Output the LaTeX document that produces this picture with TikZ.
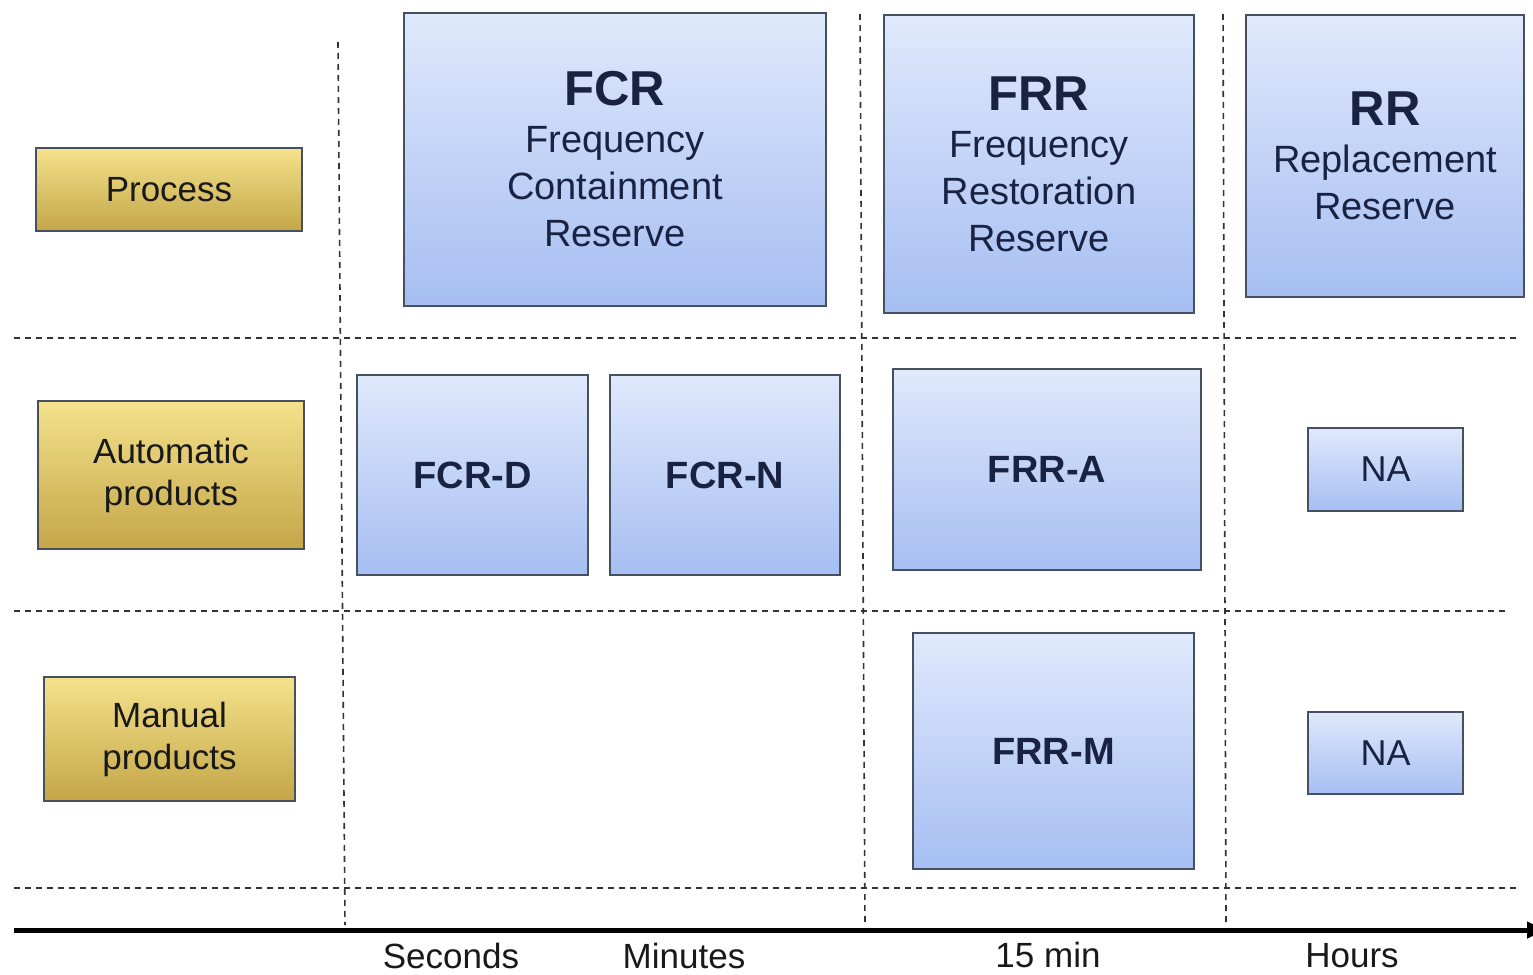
\documentclass[tikz,border=0pt]{standalone}
\usepackage{fontspec}
\setmainfont{Liberation Sans}
\usetikzlibrary{arrows.meta}
\definecolor{bluetop}{RGB}{224,233,252}
\definecolor{bluebot}{RGB}{166,190,242}
\definecolor{goldtop}{RGB}{244,226,140}
\definecolor{goldbot}{RGB}{196,166,72}
\definecolor{edgec}{RGB}{70,80,95}
\definecolor{navy}{RGB}{25,35,65}
\tikzset{
  bluebox/.style={draw=edgec, line width=2pt, top color=bluetop, bottom color=bluebot,
    text=navy, align=center, inner sep=0pt, anchor=north west},
  goldbox/.style={draw=edgec, line width=2pt, top color=goldtop, bottom color=goldbot,
    text=black!90, align=center, inner sep=0pt, anchor=north west,
    font=\fontsize{35}{42}\selectfont},
  gridline/.style={line width=1.6pt, dash pattern=on 6pt off 5pt, black!80},
  axislabel/.style={font=\fontsize{35}{40}\selectfont, text=black!90, inner sep=0pt, anchor=base},
  bigfont/.style={font=\fontsize{38}{47}\selectfont},
  prodfont/.style={font=\fontsize{38}{46}\selectfont\bfseries}
}
\begin{document}
\begin{tikzpicture}[x=1pt,y=-1pt]
\clip (0,0) rectangle (1533,974);
\fill[white] (0,0) rectangle (1533,974);

% grid lines
\draw[gridline] (14,338) -- (1520,338);
\draw[gridline] (14,611) -- (1507,611);
\draw[gridline] (14,888) -- (1520,888);
\draw[gridline] (338,42) -- (345,925);
\draw[gridline] (860,14) -- (865,925);
\draw[gridline] (1223,14) -- (1226,925);

% axis
\coordinate (axs) at (14,930);
\coordinate (axe) at (1545,930);
\draw[line width=5pt, -{Triangle[length=18pt,width=16pt]}] (axs) -- (axe);

% row headers
\node[goldbox, minimum width=266pt, minimum height=83pt] (process) at (35,147) {Process};
\node[goldbox, minimum width=266pt, minimum height=148pt] (auto) at (37,400) {Automatic\\products};
\node[goldbox, minimum width=251pt, minimum height=124pt] (manual) at (43,676) {Manual\\products};

% process boxes
\node[bluebox, bigfont, minimum width=422pt, minimum height=293pt] (fcr) at (403,12)
  {{\fontsize{49}{56}\selectfont\bfseries FCR}\\Frequency\\Containment\\Reserve};
\node[bluebox, bigfont, minimum width=310pt, minimum height=298pt] (frr) at (883,14)
  {{\fontsize{49}{56}\selectfont\bfseries FRR}\\Frequency\\Restoration\\Reserve};
\node[bluebox, bigfont, minimum width=278pt, minimum height=282pt] (rr) at (1245,14)
  {{\fontsize{49}{56}\selectfont\bfseries RR}\\Replacement\\Reserve};

% automatic products
\node[bluebox, prodfont, minimum width=231pt, minimum height=200pt] (fcrd) at (356,374) {FCR-D};
\node[bluebox, prodfont, minimum width=230pt, minimum height=200pt] (fcrn) at (609,374) {FCR-N};
\node[bluebox, prodfont, minimum width=308pt, minimum height=201pt] (frra) at (892,368) {FRR-A};
\node[bluebox, font=\fontsize{36}{42}\selectfont, minimum width=155pt, minimum height=83pt] (na1) at (1307,427) {NA};

% manual products
\node[bluebox, prodfont, minimum width=281pt, minimum height=236pt] (frrm) at (912,632) {FRR-M};
\node[bluebox, font=\fontsize{36}{42}\selectfont, minimum width=155pt, minimum height=82pt] (na2) at (1307,711) {NA};

% axis labels
\node[axislabel] (sec) at (451,968) {Seconds};
\node[axislabel] (min) at (684,968) {Minutes};
\node[axislabel] (q15) at (1048,967) {15 min};
\node[axislabel] (hrs) at (1352,967) {Hours};
\end{tikzpicture}
\end{document}
